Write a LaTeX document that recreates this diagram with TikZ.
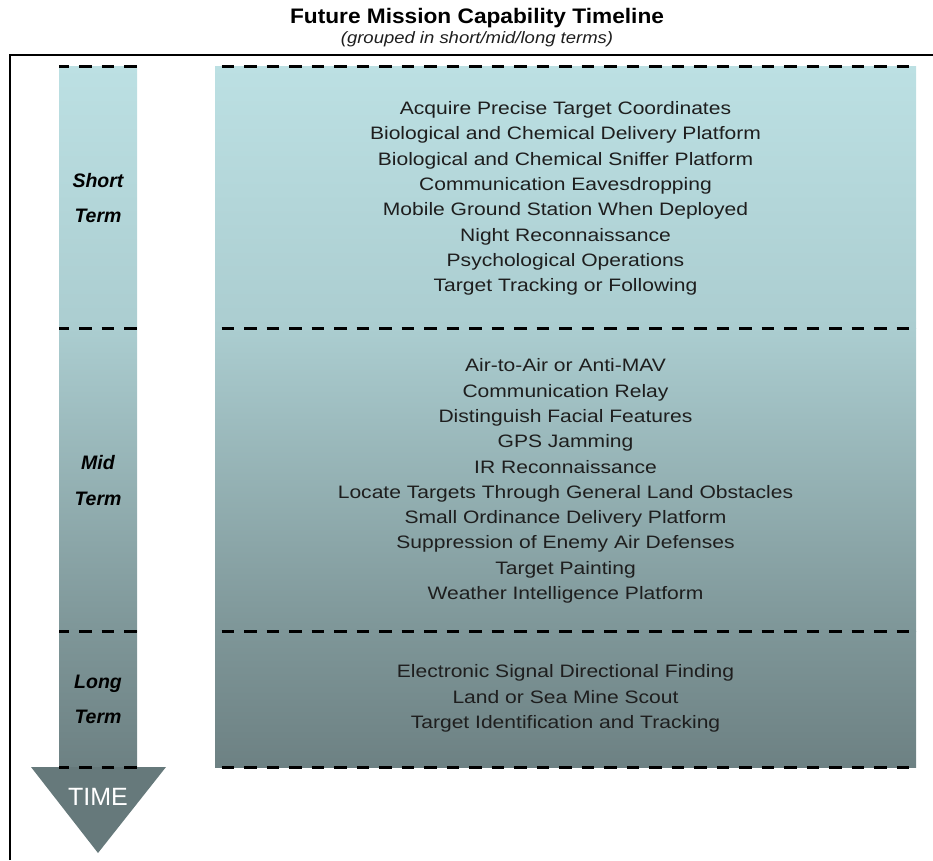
\documentclass[tikz,border=0pt]{standalone}
\usepackage{fontspec}
\setmainfont{Liberation Sans}
\usetikzlibrary{positioning}
\definecolor{ShortTop}{HTML}{BCE0E3}
\definecolor{MidTop}{HTML}{ABCDD0}
\definecolor{LongTop}{HTML}{7E9698}
\definecolor{LongBot}{HTML}{6D8183}
\definecolor{ArrowGray}{HTML}{66797B}
\definecolor{ItemText}{HTML}{1E1E1E}
\begin{document}
\begin{tikzpicture}[x=1pt,y=1pt,
  cut/.style={line width=3pt,dash pattern=on 12.5pt off 10pt},
  item/.style={font=\fontsize{18}{25.3}\selectfont\addfontfeatures{FakeStretch=1.17},text=ItemText,align=center,inner sep=0pt},
  term/.style={font=\fontsize{19.5}{35.5}\selectfont\bfseries\itshape,align=center,inner sep=0pt}
]
\useasboundingbox (0,0) rectangle (933,-860);
% outer frame
\draw[line width=2.5pt] (10,-860) -- (10,-55) -- (933,-55);
% shaded bands, one per term
\foreach \ya/\yb/\ca/\cb in {66/328/ShortTop/MidTop,328/631/MidTop/LongTop,631/767/LongTop/LongBot} {
  \shade[top color=\ca,bottom color=\cb] (59,-\ya) rectangle (137,-\yb);
  \shade[top color=\ca,bottom color=\cb] (215,-\ya) rectangle (916,-\yb);
}
\fill[ArrowGray] (31,-767) -- (166,-767) -- (98,-853) -- cycle;
\foreach \y in {66,328,631,767} {
  \draw[cut,dash phase=2.5] (59,-\y) -- (137,-\y);
  \draw[cut,dash phase=16] (215,-\y) -- (916,-\y);
}
% title
\node[font=\fontsize{21}{24}\selectfont\bfseries\addfontfeatures{FakeStretch=1.08},inner sep=0pt] (title) at (477,-18) {Future Mission Capability Timeline};
\node[font=\fontsize{16.5}{18}\selectfont\itshape\addfontfeatures{FakeStretch=1.12},text=ItemText,inner sep=0pt,below=3pt of title] (sub) {(grouped in short/mid/long terms)};
% term labels
\node[term] (short) at (98,-198) {Short\\Term};
\node[term] (mid) at (98,-480.5) {Mid\\Term};
\node[term] (long) at (98,-699.5) {Long\\Term};
\node[font=\fontsize{25}{28}\selectfont,text=white] (time) at (98,-797) {TIME};
% capability lists
\node[item] (shortlist) at (565.5,-198.5) {Acquire Precise Target Coordinates\\
  Biological and Chemical Delivery Platform\\
  Biological and Chemical Sniffer Platform\\
  Communication Eavesdropping\\
  Mobile Ground Station When Deployed\\
  Night Reconnaissance\\
  Psychological Operations\\
  Target Tracking or Following};
\node[item] (midlist) at (565.5,-481) {Air-to-Air or Anti-MAV\\
  Communication Relay\\
  Distinguish Facial Features\\
  GPS Jamming\\
  IR Reconnaissance\\
  Locate Targets Through General Land Obstacles\\
  Small Ordinance Delivery Platform\\
  Suppression of Enemy Air Defenses\\
  Target Painting\\
  Weather Intelligence Platform};
\node[item] (longlist) at (565.5,-698.5) {Electronic Signal Directional Finding\\
  Land or Sea Mine Scout\\
  Target Identification and Tracking};
\end{tikzpicture}
\end{document}
